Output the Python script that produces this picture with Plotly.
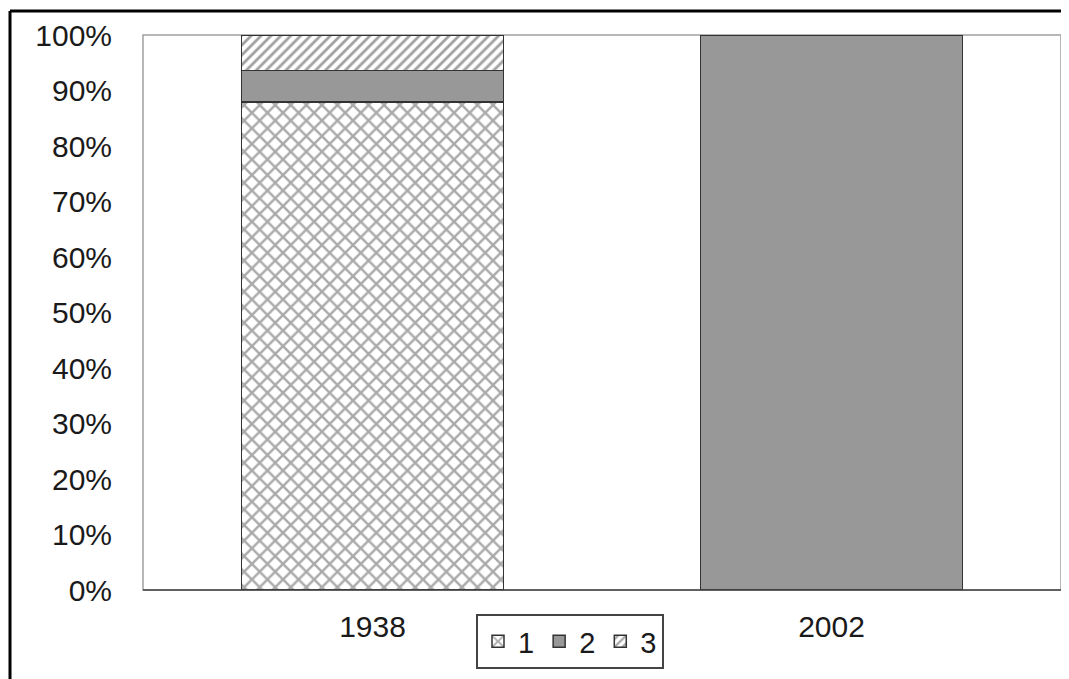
import plotly.graph_objects as go

categories = ["1938", "2002"]
series_names = ["1", "2", "3"]
s1 = [87.9, 0.0]
s2 = [5.7, 100.0]
s3 = [6.4, 0.0]
y_ticks = [0, 10, 20, 30, 40, 50, 60, 70, 80, 90, 100]
y_tick_labels = [f"{v}%" for v in y_ticks]

# page has an 8px body margin, so work in figure coordinates (page - 8)
OFF = 8
W, H = 1069 - OFF, 679 - OFF
L, R, T, B = 143 - OFF, 1061 - OFF, 35 - OFF, 590 - OFF

def px(x):
    return (x - OFF - L) / (R - L)

def py(y):
    return (B - (y - OFF)) / (B - T)

fig = go.Figure()
styles = [
    dict(color="white", pattern=dict(shape="x", fgcolor="#555555", bgcolor="white", size=11, solidity=0.4)),
    dict(color="#989898"),
    dict(color="white", pattern=dict(shape="/", fgcolor="#444444", bgcolor="white", size=7, solidity=0.4)),
]
for name, vals, st in zip(series_names, [s1, s2, s3], styles):
    fig.add_trace(go.Bar(
        x=categories, y=vals, name=name,
        marker=dict(**st, line=dict(color="#333333", width=1.5)),
        width=0.57,
    ))

fig.update_layout(
    width=W, height=H,
    barmode="stack",
    plot_bgcolor="white", paper_bgcolor="white",
    margin=dict(l=L, r=W - R, t=T, b=H - B),
    font=dict(family="Liberation Sans, Arial, sans-serif", size=29, color="#1a1a1a"),
    xaxis=dict(showgrid=False, showline=False, zeroline=False, ticks="",
               ticklabelstandoff=16, tickfont=dict(size=30)),
    yaxis=dict(range=[0, 100], tickvals=y_ticks, ticktext=y_tick_labels,
               showgrid=False, zeroline=False, showline=False, ticks="",
               ticklabelstandoff=30, tickfont=dict(size=30)),
    legend=dict(orientation="h", x=px(570), xanchor="center", y=py(614), yanchor="top",
                bordercolor="#444444", borderwidth=2, bgcolor="white",
                font=dict(size=29), itemwidth=30, traceorder="normal"),
    showlegend=True,
    shapes=[
        dict(type="rect", xref="paper", yref="paper", x0=0, x1=1, y0=0, y1=1,
             line=dict(color="#a0a0a0", width=1.5), layer="below"),
        dict(type="line", xref="paper", yref="paper", x0=0, x1=1, y0=0, y1=0,
             line=dict(color="#444444", width=1.5)),
        dict(type="line", xref="paper", yref="paper", x0=px(10), x1=px(1069), y0=py(11), y1=py(11),
             line=dict(color="black", width=3)),
        dict(type="line", xref="paper", yref="paper", x0=px(10), x1=px(10), y0=py(11), y1=py(679),
             line=dict(color="black", width=3)),
    ],
)

fig.write_html("out.html")
